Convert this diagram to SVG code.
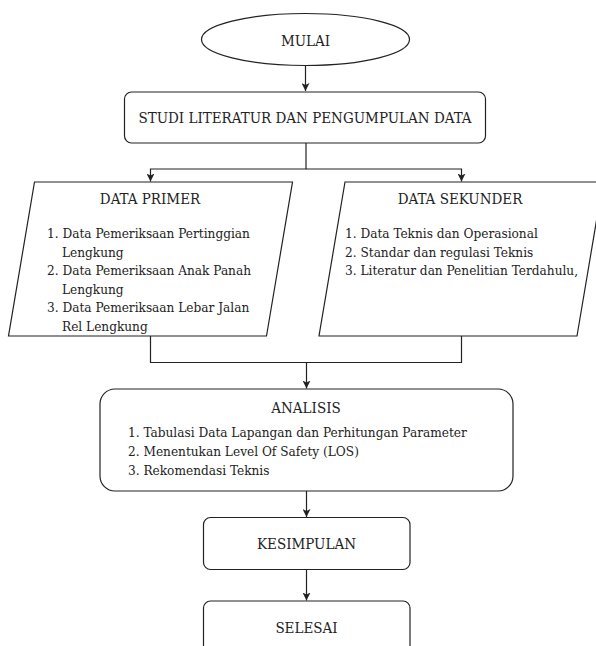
<svg xmlns="http://www.w3.org/2000/svg" width="596" height="646" viewBox="0 0 596 646">
<style>
.shape{fill:#ffffff;stroke:#222222;stroke-width:1.2}
.conn{fill:none;stroke:#222222;stroke-width:1.2}
.t{font-family:'DejaVu Serif Condensed','DejaVu Serif',serif;font-stretch:condensed;font-size:13.5px;fill:#222222}
.h{font-family:'DejaVu Serif Condensed','DejaVu Serif',serif;font-stretch:condensed;font-size:15px;fill:#222222;text-anchor:middle}
</style>
<defs>
<marker id="arr" viewBox="0 0 10 10" refX="10" refY="5" markerWidth="8" markerHeight="8" markerUnits="userSpaceOnUse" orient="auto">
<path d="M0,0 L10,5 L0,10 L2.5,5 Z" fill="#222222"/>
</marker>
</defs>
<rect width="596" height="646" fill="#ffffff"/>
<g id="connectors">
<path class="conn" d="M305.5 65.5 V91" marker-end="url(#arr)"/>
<path class="conn" d="M306 143 V169 H150.5 V181.5" marker-end="url(#arr)"/>
<path class="conn" d="M306 169 H461.5 V181.5" marker-end="url(#arr)"/>
<path class="conn" d="M150.5 336 V362.5 H461.5 V336"/>
<path class="conn" d="M306.5 362.5 V388.5" marker-end="url(#arr)"/>
<path class="conn" d="M306.5 491 V517" marker-end="url(#arr)"/>
<path class="conn" d="M306.5 569.5 V600.5" marker-end="url(#arr)"/>
</g>
<g id="mulai">
<ellipse class="shape" cx="305.5" cy="39.5" rx="104" ry="26"/>
<text class="h" x="305.5" y="45.5">MULAI</text>
</g>
<g id="studi">
<rect class="shape" x="124.5" y="92" width="361" height="51" rx="7"/>
<text class="h" x="305" y="123">STUDI LITERATUR DAN PENGUMPULAN DATA</text>
</g>
<g id="data-primer">
<polygon class="shape" points="34.5,182 292.5,182 266.5,336 8.5,336"/>
<text class="h" x="150" y="204">DATA PRIMER</text>
<text class="t" x="47" y="238">1. Data Pemeriksaan Pertinggian</text>
<text class="t" x="62" y="256.5">Lengkung</text>
<text class="t" x="47" y="275">2. Data Pemeriksaan Anak Panah</text>
<text class="t" x="62" y="293.5">Lengkung</text>
<text class="t" x="47" y="312">3. Data Pemeriksaan Lebar Jalan</text>
<text class="t" x="62" y="330.5">Rel Lengkung</text>
</g>
<g id="data-sekunder">
<polygon class="shape" points="345,182 603,182 577,336 319,336"/>
<text class="h" x="460" y="204">DATA SEKUNDER</text>
<text class="t" x="345" y="238">1. Data Teknis dan Operasional</text>
<text class="t" x="345" y="256.5">2. Standar dan regulasi Teknis</text>
<text class="t" x="345" y="275">3. Literatur dan Penelitian Terdahulu,</text>
</g>
<g id="analisis">
<rect class="shape" x="100" y="389" width="413" height="102" rx="15"/>
<text class="h" x="306" y="413">ANALISIS</text>
<text class="t" x="128" y="437">1. Tabulasi Data Lapangan dan Perhitungan Parameter</text>
<text class="t" x="128" y="456">2. Menentukan Level Of Safety (LOS)</text>
<text class="t" x="128" y="474.5">3. Rekomendasi Teknis</text>
</g>
<g id="kesimpulan">
<rect class="shape" x="203.5" y="517.5" width="206.5" height="52" rx="7"/>
<text class="h" x="306.5" y="549">KESIMPULAN</text>
</g>
<g id="selesai">
<rect class="shape" x="203.5" y="601" width="206.5" height="52" rx="7"/>
<text class="h" x="306.5" y="632.5">SELESAI</text>
</g>
</svg>
